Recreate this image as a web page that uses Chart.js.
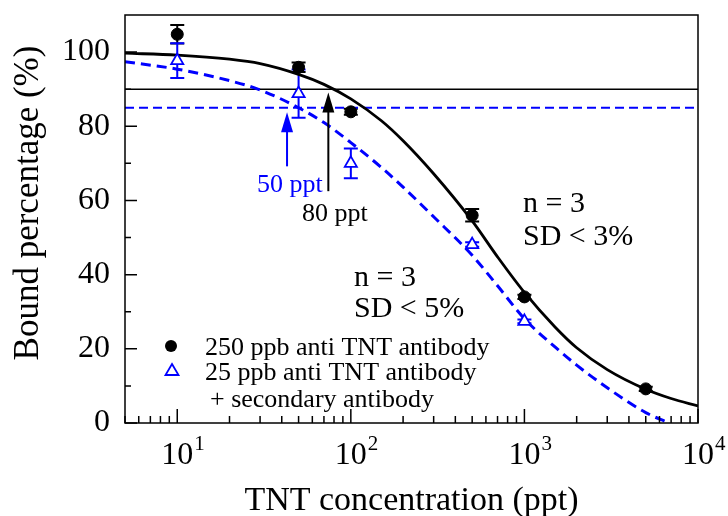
<!DOCTYPE html>
<html>
<head>
<meta charset="utf-8">
<script src="https://cdn.jsdelivr.net/npm/chart.js@4.4.1/dist/chart.umd.min.js"></script>
<style>
  html, body { margin: 0; padding: 0; background: #fff; }
  #wrap { width: 728px; height: 516px; }
</style>
</head>
<body>
<div id="wrap"><canvas id="c" width="728" height="516"></canvas></div>
<script>
// measured points (TNT concentration in ppt, bound %)
const concBlack = [10, 50, 100, 500, 1000, 5000];
const boundBlack = [104.8, 95.9, 83.9, 56.0, 34.0, 9.2];
const errBlack = [2.5, 1.3, 0.8, 1.7, 0.6, 0.6];

const concBlue = [10, 50, 100, 500, 1000];
const boundBlue = [97.7, 88.8, 70.0, 48.1, 27.4];
const errBlue = [4.7, 6.5, 4.0, 0.6, 0.5];

// fitted curves
const fitConcBlack = [5, 10, 20, 30, 50, 70, 100, 150, 200, 300, 500, 700, 1000, 1500, 2000, 3000, 5000, 7000, 10000];
const fitBlack = [99.7, 99.2, 98.1, 96.9, 94.0, 91.3, 87.4, 81.5, 76.1, 67.2, 54.5, 44.8, 35.2, 25.9, 20.3, 14.4, 9.1, 6.6, 4.6];
const fitConcBlue = [5, 10, 20, 30, 50, 70, 100, 150, 200, 300, 500, 700, 1000, 1500, 2000, 3000, 5000, 6800];
const fitBlue = [97.4, 95.4, 92.3, 89.8, 85.0, 81.0, 75.6, 68.9, 63.6, 55.6, 45.2, 37.0, 28.1, 20.5, 15.6, 9.5, 2.8, 0];

// reference levels (90 % and 85 % bound)
const refConc = [5, 10000];
const refBlack = [90, 90];
const refBlue = [85, 85];

// detection-limit arrows: x, tip, tail
const arrowConc = [42.9, 74.2];
const arrowTip = [83.8, 89.1];
const arrowTail = [69.2, 62.5];
const arrowColors = ['#0000ff', '#000000'];

const yTickValues = [0, 20, 40, 60, 80, 100];
const xDecades = [1, 2, 3, 4];

const BLUE = '#0000ff';
const SERIF = '"Liberation Serif", "Times New Roman", serif';

const pts = (xs, ys) => xs.map((x, i) => ({ x, y: ys[i] }));

/** Frame, inward ticks, superscript x labels, error bars, arrows and text */
const decorations = {
  id: 'decorations',
  beforeDatasetsDraw(chart) {
    const { ctx, scales: { x, y } } = chart;
    ctx.save();
    ctx.lineWidth = 2;
    const bars = (xs, ys, es, color) => {
      ctx.strokeStyle = color;
      xs.forEach((v, i) => {
        const px = x.getPixelForValue(v);
        const top = y.getPixelForValue(ys[i] + es[i]);
        const bot = y.getPixelForValue(ys[i] - es[i]);
        ctx.beginPath();
        ctx.moveTo(px, top); ctx.lineTo(px, bot);
        ctx.moveTo(px - 7, top); ctx.lineTo(px + 7, top);
        ctx.moveTo(px - 7, bot); ctx.lineTo(px + 7, bot);
        ctx.stroke();
      });
    };
    bars(concBlack, boundBlack, errBlack, '#000');
    bars(concBlue, boundBlue, errBlue, BLUE);
    ctx.restore();
  },
  afterDatasetsDraw(chart) {
    const { ctx, chartArea: a, scales: { x, y } } = chart;
    ctx.save();

    // frame
    ctx.strokeStyle = '#000';
    ctx.lineWidth = 1.5;
    ctx.strokeRect(a.left, a.top, a.right - a.left, a.bottom - a.top);

    // y ticks, pointing inward
    ctx.beginPath();
    for (let v = 0; v <= 100; v += 10) {
      const py = y.getPixelForValue(v);
      ctx.moveTo(a.left, py);
      ctx.lineTo(a.left + (v % 20 === 0 ? 12 : 6), py);
    }
    // x ticks
    for (let d = 0; d <= 4; d++) {
      for (let m = 1; m <= 9; m++) {
        const v = m * Math.pow(10, d);
        if (v < 5 || v > 10000) continue;
        const px = x.getPixelForValue(v);
        ctx.moveTo(px, a.bottom);
        ctx.lineTo(px, a.bottom - (m === 1 ? 14 : 7));
      }
    }
    ctx.stroke();

    // x tick labels 10^n
    ctx.fillStyle = '#000';
    ctx.textBaseline = 'alphabetic';
    xDecades.forEach(d => {
      const px = x.getPixelForValue(Math.pow(10, d));
      ctx.font = '32px ' + SERIF;
      ctx.textAlign = 'center';
      ctx.fillText('10', px, 464);
      const half = ctx.measureText('10').width / 2;
      ctx.font = '21px ' + SERIF;
      ctx.textAlign = 'left';
      ctx.fillText(String(d), px + half + 1, 450);
    });

    // axis titles
    ctx.textAlign = 'center';
    ctx.font = '34px ' + SERIF;
    ctx.fillText('TNT concentration (ppt)', (a.left + a.right) / 2, 510);
    ctx.save();
    ctx.translate(38, 203);
    ctx.rotate(-Math.PI / 2);
    ctx.font = '35px ' + SERIF;
    ctx.fillText('Bound percentage (%)', 0, 0);
    ctx.restore();

    // arrows
    arrowConc.forEach((c, i) => {
      const px = x.getPixelForValue(c);
      const tip = y.getPixelForValue(arrowTip[i]);
      const tail = y.getPixelForValue(arrowTail[i]);
      ctx.strokeStyle = arrowColors[i];
      ctx.fillStyle = arrowColors[i];
      ctx.lineWidth = 2;
      ctx.beginPath();
      ctx.moveTo(px, tail); ctx.lineTo(px, tip + 10);
      ctx.stroke();
      ctx.beginPath();
      ctx.moveTo(px, tip); ctx.lineTo(px - 6, tip + 20); ctx.lineTo(px + 6, tip + 20);
      ctx.closePath();
      ctx.fill();
    });

    // annotations
    ctx.textAlign = 'left';
    ctx.font = '26px ' + SERIF;
    ctx.fillStyle = BLUE;
    ctx.fillText('50 ppt', 257, 192);
    ctx.fillStyle = '#000';
    ctx.fillText('80 ppt', 302, 221);

    ctx.font = '30px ' + SERIF;
    ctx.fillText('n = 3', 523, 212);
    ctx.fillText('SD < 3%', 523, 245);
    ctx.fillText('n = 3', 354, 286);
    ctx.fillText('SD < 5%', 354, 317);

    // legend
    ctx.beginPath();
    ctx.arc(171, 346, 6, 0, Math.PI * 2);
    ctx.fill();
    ctx.strokeStyle = BLUE;
    ctx.lineWidth = 1.8;
    ctx.beginPath();
    ctx.moveTo(172, 364); ctx.lineTo(178.5, 375); ctx.lineTo(165.5, 375);
    ctx.closePath();
    ctx.stroke();
    ctx.font = '26px ' + SERIF;
    ctx.fillStyle = '#000';
    ctx.fillText('250 ppb anti TNT antibody', 205, 355);
    ctx.fillText('25 ppb anti TNT antibody', 205, 380);
    ctx.fillText('+ secondary antibody', 210, 407);

    ctx.restore();
  }
};

new Chart(document.getElementById('c'), {
  type: 'scatter',
  data: {
    datasets: [
      {
        label: '250 ppb anti TNT antibody',
        data: pts(concBlack, boundBlack),
        pointStyle: 'circle', pointRadius: 6,
        backgroundColor: '#000', borderColor: '#000',
        showLine: false, order: 0,
      },
      {
        label: '25 ppb anti TNT antibody + secondary antibody',
        data: pts(concBlue, boundBlue),
        pointStyle: 'triangle', pointRadius: 7, pointBorderWidth: 1.8,
        backgroundColor: '#fff', borderColor: BLUE,
        showLine: false, order: 1,
      },
      {
        label: 'fit 250 ppb',
        data: pts(fitConcBlack, fitBlack),
        showLine: true, pointRadius: 0, borderColor: '#000', borderWidth: 2.8,
        cubicInterpolationMode: 'monotone', order: 2,
      },
      {
        label: 'fit 25 ppb',
        data: pts(fitConcBlue, fitBlue),
        showLine: true, pointRadius: 0, borderColor: BLUE, borderWidth: 3,
        borderDash: [10, 6], cubicInterpolationMode: 'monotone', order: 3,
      },
      {
        label: '90 %',
        data: pts(refConc, refBlack),
        showLine: true, pointRadius: 0, borderColor: '#000', borderWidth: 1.5, order: 4,
      },
      {
        label: '85 %',
        data: pts(refConc, refBlue),
        showLine: true, pointRadius: 0, borderColor: BLUE, borderWidth: 2,
        borderDash: [9, 5], order: 5,
      },
    ],
  },
  options: {
    responsive: false,
    animation: false,
    events: [],
    layout: { padding: { left: 0, right: 30, top: 15, bottom: 0 } },
    plugins: { legend: { display: false }, tooltip: { enabled: false } },
    scales: {
      x: {
        type: 'logarithmic',
        min: 5, max: 10000,
        grid: { display: false, drawTicks: false },
        border: { display: false },
        ticks: { display: false },
        afterFit: s => { s.height = 93; s.paddingLeft = 0; s.paddingRight = 0; },
      },
      y: {
        min: 0, max: 110,
        grid: { display: false, drawTicks: false },
        border: { display: false },
        ticks: { color: '#000', padding: 15, font: { family: SERIF, size: 32 } },
        afterBuildTicks: s => { s.ticks = yTickValues.map(v => ({ value: v })); },
        afterFit: s => { s.width = 125; s.paddingTop = 0; s.paddingBottom = 0; },
      },
    },
  },
  plugins: [decorations],
});
</script>
</body>
</html>
